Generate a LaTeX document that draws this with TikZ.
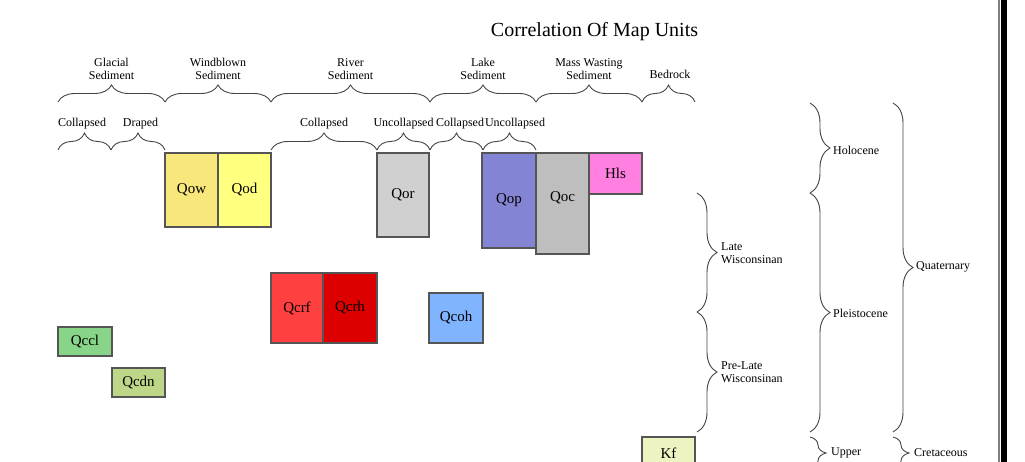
\documentclass[tikz,border=0pt]{standalone}
\usepackage{fontspec}
\setmainfont{Liberation Serif}
\usetikzlibrary{positioning, decorations.pathreplacing}
\definecolor{boxgray}{HTML}{555555}
\definecolor{bracegray}{HTML}{444444}
\definecolor{qowyellow}{HTML}{F8E87C}
\definecolor{qodyellow}{HTML}{FFFF80}
\definecolor{qorgray}{HTML}{D0D0D0}
\definecolor{qopblue}{HTML}{8484D4}
\definecolor{qocgray}{HTML}{BEBEBE}
\definecolor{hlspink}{HTML}{FF80E0}
\definecolor{qcrfred}{HTML}{FF4040}
\definecolor{qcrhred}{HTML}{DC0000}
\definecolor{qcohblue}{HTML}{80B4FF}
\definecolor{qcclgreen}{HTML}{88D488}
\definecolor{qcdngreen}{HTML}{BED688}
\definecolor{kfyellow}{HTML}{EEF3C2}

\begin{document}
\begin{tikzpicture}[x=1pt, y=-1pt,
    unit/.style={draw=boxgray, line width=1.2pt, inner sep=0pt, outer sep=0pt, font=\fontsize{15}{17}\selectfont},
    grouplbl/.style={font=\fontsize{12}{13}\selectfont, align=center, inner sep=0pt},
    agelbl/.style={font=\fontsize{12}{13}\selectfont, align=left, anchor=west, inner sep=0pt},
    hbrc/.style={decorate, decoration={brace, amplitude=17pt}, draw=bracegray, line width=0.9pt},
    vbrc/.style={decorate, decoration={brace, amplitude=20pt}, draw=bracegray, line width=0.9pt}]
  \useasboundingbox (0,0) rectangle (1025,462);
  \clip (0,0) rectangle (1025,462);

  % Title
  \node[font=\fontsize{20}{24}\selectfont, anchor=base] (title) at (594.5,37) {Correlation Of Map Units};

  % Sediment groups
  \node[grouplbl, anchor=south] (glacial) at (111.5,80) {Glacial\\Sediment};
  \node[grouplbl, anchor=south] (windblown) at (218,80) {Windblown\\Sediment};
  \node[grouplbl, anchor=south] (river) at (350.5,80) {River\\Sediment};
  \node[grouplbl, anchor=south] (lake) at (483,80) {Lake\\Sediment};
  \node[grouplbl, anchor=south] (masswasting) at (589,80) {Mass Wasting\\Sediment};
  \node[grouplbl, anchor=base] (bedrock) at (670,78.5) {Bedrock};
  \draw[hbrc] (58,102) -- (165,102);
  \draw[hbrc] (165,102) -- (271,102);
  \draw[hbrc] (271,102) -- (430,102);
  \draw[hbrc] (430,102) -- (536,102);
  \draw[hbrc] (536,102) -- (642,102);
  \draw[hbrc] (642,102) -- (695,102);

  % Sub groups
  \node[grouplbl, anchor=base] (gcollapsed) at (82,127) {Collapsed};
  \node[grouplbl, anchor=base] (gdraped) at (140.5,127) {Draped};
  \node[grouplbl, anchor=base] (rcollapsed) at (324,127) {Collapsed};
  \node[grouplbl, anchor=base] (runcollapsed) at (403.5,127) {Uncollapsed};
  \node[grouplbl, anchor=base] (lcollapsed) at (460,127) {Collapsed};
  \node[grouplbl, anchor=base] (luncollapsed) at (515,127) {Uncollapsed};
  \draw[hbrc] (58,150) -- (111,150);
  \draw[hbrc] (111,150) -- (165,150);
  \draw[hbrc] (271,150) -- (377,150);
  \draw[hbrc] (377,150) -- (430,150);
  \draw[hbrc] (430,150) -- (483,150);
  \draw[hbrc] (483,150) -- (536,150);

  % Map units
  \node[unit, fill=qowyellow, minimum width=53pt, minimum height=74pt] (Qow) at (191.5,190) {Qow};
  \node[unit, fill=qodyellow, minimum width=53pt, minimum height=74pt, right=0pt of Qow] (Qod) {Qod};
  \node[unit, fill=qorgray, minimum width=52pt, minimum height=84pt] (Qor) at (403,195) {Qor};
  \node[unit, fill=qopblue, minimum width=54pt, minimum height=95pt] (Qop) at (509,200.5) {Qop};
  \node[unit, fill=qocgray, minimum width=53pt, minimum height=101pt, anchor=north west,
        label={[font=\fontsize{15}{17}\selectfont, yshift=6pt]center:Qoc}] (Qoc) at (Qop.north east) {};
  \node[unit, fill=hlspink, minimum width=53pt, minimum height=41pt, anchor=north west] (Hls) at (Qoc.north east) {Hls};
  \node[unit, fill=qcrfred, minimum width=52pt, minimum height=70pt] (Qcrf) at (297,308) {Qcrf};
  \node[unit, fill=qcrhred, minimum width=54pt, minimum height=70pt, right=0pt of Qcrf] (Qcrh) {Qcrh};
  \node[unit, fill=qcohblue, minimum width=54pt, minimum height=50pt] (Qcoh) at (456,318) {Qcoh};
  \node[unit, fill=qcclgreen, minimum width=54pt, minimum height=29pt] (Qccl) at (85,341.5) {Qccl};
  \node[unit, fill=qcdngreen, minimum width=53pt, minimum height=29pt] (Qcdn) at (138.5,382.5) {Qcdn};
  \node[unit, fill=kfyellow, minimum width=53pt, minimum height=32pt] (Kf) at (668.5,453) {Kf};

  % Ages
  \draw[vbrc] (697,193) -- (697,312);
  \draw[vbrc] (697,312) -- (697,432);
  \node[agelbl] (late) at (721,253) {Late\\Wisconsinan};
  \node[agelbl] (prelate) at (721,372) {Pre-Late\\Wisconsinan};
  \draw[vbrc] (810,103) -- (810,193);
  \draw[vbrc] (810,193) -- (810,432);
  \draw[vbrc, decoration={amplitude=16pt}] (810,437) -- (810,469);
  \node[agelbl] (holocene) at (833,150) {Holocene};
  \node[agelbl] (pleistocene) at (833,313) {Pleistocene};
  \node[agelbl] (upper) at (831,453) {Upper};
  \draw[vbrc] (893,103) -- (893,432);
  \draw[vbrc, decoration={amplitude=16pt}] (893,437) -- (893,469);
  \node[agelbl] (quaternary) at (916,267) {Quaternary};
  \node[agelbl] (cretaceous) at (914,453) {Cretaceous};

  % Page edge
  \draw[line width=1.5pt, gray] (999,0) -- (999,462);
  \fill[black] (1001,0) rectangle (1007,462);
\end{tikzpicture}
\end{document}
